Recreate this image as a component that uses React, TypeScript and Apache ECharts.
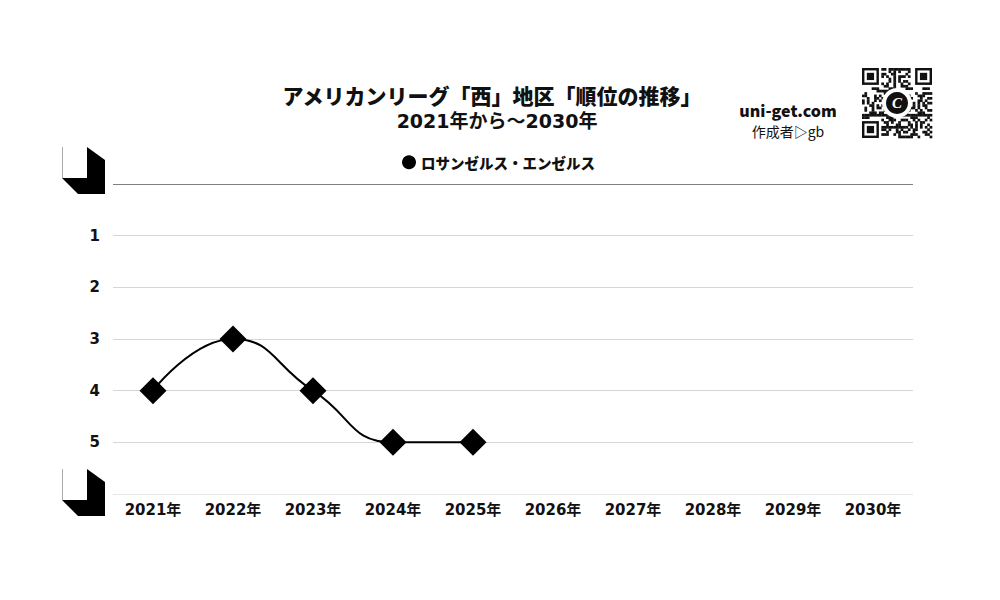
import React, { useEffect, useRef } from "react";
import * as echarts from "echarts";

const categories = ["2021年", "2022年", "2023年", "2024年", "2025年", "2026年", "2027年", "2028年", "2029年", "2030年"];
const seriesName = "ロサンゼルス・エンゼルス";
const ranks: (number | null)[] = [4, 3, 4, 5, 5, null, null, null, null, null];
const rankTicks = ["1", "2", "3", "4", "5"];

const titleText = "アメリカンリーグ「西」地区「順位の推移」";
const subTitleText = "2021年から〜2030年";

const FONT = "'Noto Sans CJK JP', 'Noto Sans', sans-serif";
const NUMFONT = "'DejaVu Sans', 'Noto Sans CJK JP', sans-serif";

function qrModules(): any[] {
  const n = 29;
  const size = 70 / n;
  const x0 = 862, y0 = 68;
  const els: any[] = [];
  const inFinder = (i: number, j: number) =>
    (i < 8 && j < 8) || (i < 8 && j >= n - 8) || (i >= n - 8 && j < 8);
  for (let i = 0; i < n; i++) {
    for (let j = 0; j < n; j++) {
      if (inFinder(i, j)) continue;
      const h = (i * 31 + j * 17 + ((i * j) % 7) * 5 + ((i + 3) * (j + 5)) % 11) % 7;
      if (h < 3) {
        els.push({ type: "rect", shape: { x: x0 + j * size, y: y0 + i * size, width: size + 0.3, height: size + 0.3 }, style: { fill: "#111" } });
      }
    }
  }
  const finder = (cx: number, cy: number) => {
    const s = size;
    els.push({ type: "rect", shape: { x: cx, y: cy, width: 7 * s, height: 7 * s }, style: { fill: "#111" } });
    els.push({ type: "rect", shape: { x: cx + s, y: cy + s, width: 5 * s, height: 5 * s }, style: { fill: "#fff" } });
    els.push({ type: "rect", shape: { x: cx + 2 * s, y: cy + 2 * s, width: 3 * s, height: 3 * s }, style: { fill: "#111" } });
  };
  finder(x0, y0);
  finder(x0 + (n - 7) * size, y0);
  finder(x0, y0 + (n - 7) * size);
  els.push({ type: "circle", shape: { cx: x0 + 35, cy: y0 + 35, r: 15 }, style: { fill: "#fff" } });
  els.push({ type: "circle", shape: { cx: x0 + 35, cy: y0 + 35, r: 11 }, style: { fill: "#111" } });
  els.push({ type: "text", x: x0 + 35, y: y0 + 35, style: { text: "C", fill: "#fff", font: "italic bold 15px serif", align: "center", verticalAlign: "middle" } });
  return els;
}

function corner(y: number): any {
  return {
    type: "group",
    x: 0,
    y,
    children: [
      { type: "line", shape: { x1: 62.5, y1: 0, x2: 62.5, y2: 31 }, style: { stroke: "#aaa", lineWidth: 1 } },
      { type: "polygon", shape: { points: [[87, 0], [105, 13], [105, 47], [78, 47], [62, 31], [87, 31]] }, style: { fill: "#000" } },
    ],
  };
}

export default function App() {
  const ref = useRef<HTMLDivElement>(null);
  useEffect(() => {
    if (!ref.current) return;
    const chart = echarts.init(ref.current, undefined, { renderer: "svg" });
    const lineColors = ["#808080", "#d6d6d6", "#d6d6d6", "#d6d6d6", "#d6d6d6", "#d6d6d6", "#e6e6e6"];
    chart.setOption({
      animation: false,
      backgroundColor: "#fff",
      textStyle: { fontFamily: FONT },
      grid: { left: 113, right: 87, top: 184, bottom: 106, containLabel: false },
      legend: {
        left: 397,
        top: 150,
        icon: "circle",
        itemWidth: 14,
        itemHeight: 14,
        itemGap: 8,
        textStyle: { fontFamily: FONT, fontSize: 14.5, fontWeight: 900, color: "#111" },
        data: [seriesName],
      },
      xAxis: {
        type: "category",
        data: categories,
        boundaryGap: true,
        axisLine: { show: false },
        axisTick: { show: false },
        axisLabel: { fontFamily: NUMFONT, fontSize: 15, fontWeight: "bold", color: "#111", margin: 8, interval: 0 },
      },
      yAxis: {
        type: "value",
        inverse: true,
        min: 0,
        max: 6,
        interval: 1,
        axisLine: { show: false },
        axisTick: { show: false },
        splitLine: { show: true, lineStyle: { color: lineColors, width: 1 } },
        axisLabel: {
          fontFamily: NUMFONT,
          fontSize: 15,
          fontWeight: "bold",
          color: "#111",
          margin: 13,
          formatter: (v: number) => (rankTicks.includes(String(v)) ? String(v) : ""),
        },
      },
      series: [
        {
          name: seriesName,
          type: "line",
          data: ranks,
          smooth: 0.5,
          symbol: "diamond",
          symbolSize: 27,
          itemStyle: { color: "#000" },
          lineStyle: { color: "#000", width: 2 },
          connectNulls: false,
        },
      ],
      graphic: [
        {
          type: "text",
          x: 492,
          y: 95,
          style: { text: titleText, font: `900 21px ${FONT}`, fill: "#111", align: "center", verticalAlign: "middle" },
        },
        {
          type: "text",
          x: 497,
          y: 121,
          style: { text: subTitleText, font: `bold 19px ${NUMFONT}`, fill: "#111", align: "center", verticalAlign: "middle" },
        },
        {
          type: "text",
          x: 788,
          y: 110,
          style: { text: "uni-get.com", font: `900 16px ${FONT}`, fill: "#111", align: "center", verticalAlign: "middle" },
        },
        {
          type: "text",
          x: 788,
          y: 131,
          style: { text: "作成者▷gb", font: `14px ${FONT}`, fill: "#111", align: "center", verticalAlign: "middle" },
        },
        corner(147),
        corner(469),
        { type: "group", children: qrModules() },
      ],
    });
    return () => chart.dispose();
  }, []);
  return <div ref={ref} style={{ width: 1000, height: 600, position: "absolute", left: 0, top: 0 }} />;
}
